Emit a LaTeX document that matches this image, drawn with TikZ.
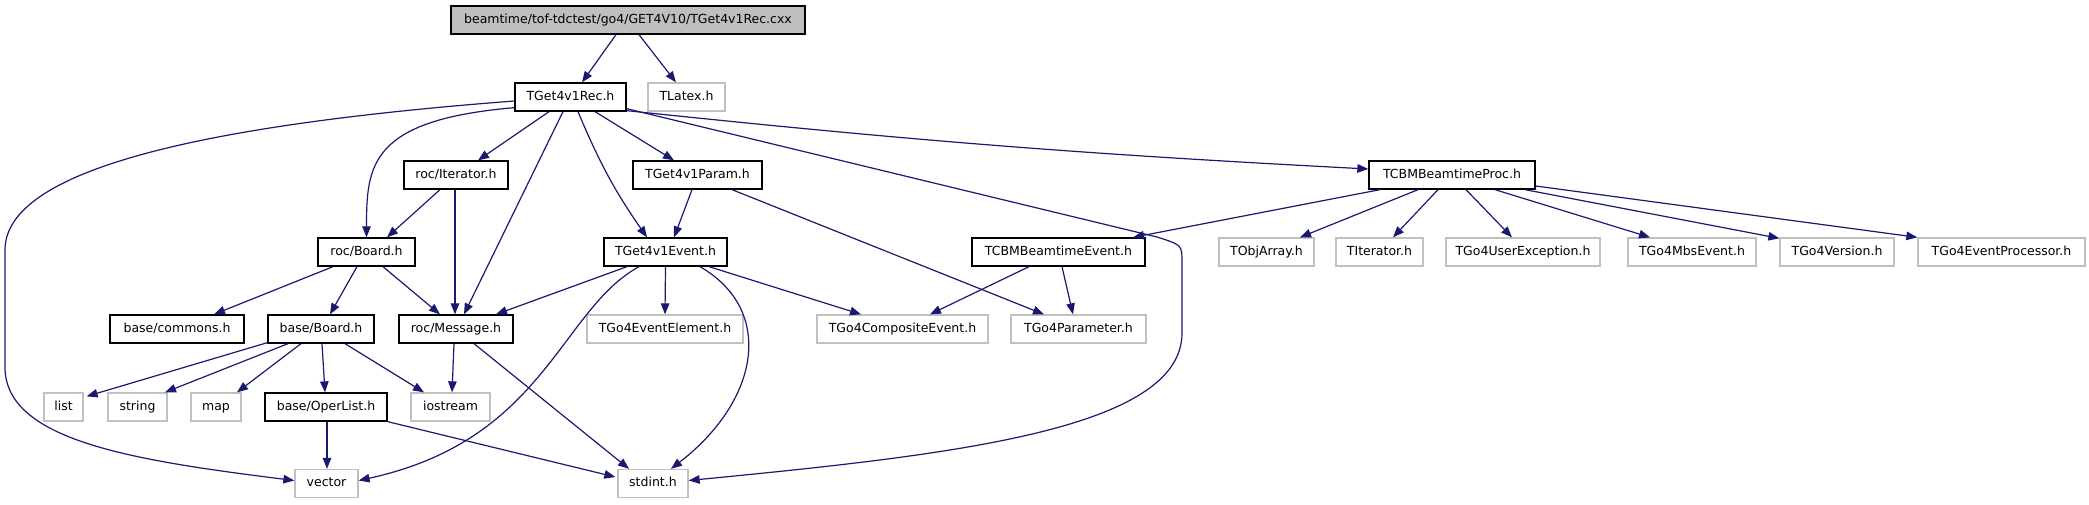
\documentclass[tikz,border=0pt]{standalone}
\usepackage{fontspec}
\setmainfont{DejaVu Sans}
\usetikzlibrary{arrows.meta,calc}
\definecolor{edgec}{HTML}{191970}
\definecolor{greyc}{HTML}{C0C0C0}
\definecolor{topfill}{HTML}{BFBFBF}
\begin{document}
\begin{tikzpicture}[x=1pt,y=-1pt,
  box/.style={draw=black,line width=1.3pt,fill=white,minimum height=28pt,inner sep=0pt,
    font=\fontsize{12.5}{14}\selectfont,text height=9.3pt,text depth=2.4pt},
  gbox/.style={box,draw=greyc},
  edge/.style={draw=edgec,line width=1.2pt,-{Triangle[length=11pt,width=8.5pt]}}]
\useasboundingbox (0,0) rectangle (2089,504);
% row 0
\node[box,fill=topfill,minimum width=354pt] (top) at (628,20) {beamtime/tof-tdctest/go4/GET4V10/TGet4v1Rec.cxx};
% row 1
\node[box,minimum width=111pt] (rec) at (570.5,97) {TGet4v1Rec.h};
\node[gbox,minimum width=77pt] (tlatex) at (686.5,97) {TLatex.h};
% row 2
\node[box,minimum width=104pt] (iter) at (456,175) {roc/Iterator.h};
\node[box,minimum width=129pt] (param) at (697.5,175) {TGet4v1Param.h};
\node[box,minimum width=166pt] (cbmproc) at (1452,175) {TCBMBeamtimeProc.h};
% row 3
\node[box,minimum width=97pt] (rocboard) at (366.5,252) {roc/Board.h};
\node[box,minimum width=123pt] (event) at (665.5,252) {TGet4v1Event.h};
\node[box,minimum width=173pt] (cbmevent) at (1058.5,252) {TCBMBeamtimeEvent.h};
\node[gbox,minimum width=95pt] (tobjarray) at (1266.5,252) {TObjArray.h};
\node[gbox,minimum width=87pt] (titerator) at (1379.5,252) {TIterator.h};
\node[gbox,minimum width=154pt] (userexc) at (1523,252) {TGo4UserException.h};
\node[gbox,minimum width=128pt] (mbs) at (1692,252) {TGo4MbsEvent.h};
\node[gbox,minimum width=114pt] (version) at (1837,252) {TGo4Version.h};
\node[gbox,minimum width=167pt] (evproc) at (2001.5,252) {TGo4EventProcessor.h};
% row 4
\node[box,minimum width=134pt] (commons) at (177,329) {base/commons.h};
\node[box,minimum width=106pt] (baseboard) at (321,329) {base/Board.h};
\node[box,minimum width=114pt] (rocmsg) at (456,329) {roc/Message.h};
\node[gbox,minimum width=156pt] (evelem) at (665,329) {TGo4EventElement.h};
\node[gbox,minimum width=171pt] (composite) at (902.5,329) {TGo4CompositeEvent.h};
\node[gbox,minimum width=135pt] (parameter) at (1078.5,329) {TGo4Parameter.h};
% row 5
\node[gbox,minimum width=39pt] (list) at (63.5,407) {list};
\node[gbox,minimum width=59pt] (string) at (137.5,407) {string};
\node[gbox,minimum width=50pt] (map) at (216,407) {map};
\node[box,minimum width=122pt] (operlist) at (326,407) {base/OperList.h};
\node[gbox,minimum width=79pt] (iostream) at (450.5,407) {iostream};
% row 6
\node[gbox,minimum width=63pt] (vector) at (326.5,483.5) {vector};
\node[gbox,minimum width=70pt] (stdint) at (653,483.5) {stdint.h};

% edges
\draw[edge] ($(top.south)+(-12,0)$) -- ($(rec.north)+(11.5,0)$);
\draw[edge] ($(top.south)+(11,0)$) -- ($(tlatex.north)+(-10.5,0)$);

\draw[edge] ($(rec.west)+(0,4)$) .. controls (200,125) and (5,170) .. (5,250) -- (5,367) .. controls (5,440) and (130,460) .. ($(vector.west)+(0,-3)$);
\draw[edge] ($(rec.south west)+(0,-4)$) .. controls (370,120) and (366.5,165) .. (rocboard.north);
\draw[edge] ($(rec.south)+(-21.5,0)$) -- ($(iter.north)+(22,0)$);
\draw[edge] ($(rec.south)+(-7.5,0)$) -- ($(rocmsg.north)+(8,0)$);
\draw[edge] ($(rec.south)+(7.5,0)$) to[bend right=6] ($(event.north)+(-18.5,0)$);
\draw[edge] ($(rec.south)+(24.5,0)$) -- ($(param.north)+(-23.5,0)$);
\draw[edge] ($(rec.south east)+(0,-3)$) -- (1157,237) .. controls (1182,245) .. (1182,262) -- (1182,333) .. controls (1182,430) and (950,455) .. ($(stdint.east)+(0,-3)$);
\draw[edge] ($(rec.south east)+(0,-1)$) to[bend right=1.5] ($(cbmproc.west)+(0,-6)$);

\draw[edge] ($(iter.south)+(-16,0)$) -- ($(rocboard.north)+(20.5,0)$);
\draw[edge] ($(iter.south)+(-1,0)$) -- ($(rocmsg.north)+(-1,0)$);

\draw[edge] ($(param.south)+(-5.5,0)$) -- ($(event.north)+(8.5,0)$);
\draw[edge] ($(param.south)+(34.5,0)$) -- ($(parameter.north)+(-34.5,0)$);

\draw[edge] ($(rocboard.south)+(-33.5,0)$) -- ($(commons.north)+(37,0)$);
\draw[edge] ($(rocboard.south)+(-9.5,0)$) -- ($(baseboard.north)+(9,0)$);
\draw[edge] ($(rocboard.south)+(16.5,0)$) -- ($(rocmsg.north)+(-16,0)$);

\draw[edge] ($(event.south)+(-38.5,0)$) -- ($(rocmsg.north)+(40,0)$);
\draw[edge] ($(event.south)+(-26.5,0)$) .. controls (560,310) and (545,440) .. ($(vector.east)+(0,-3)$);
\draw[edge] (event.south) -- (evelem.north);
\draw[edge] ($(event.south)+(34.5,0)$) .. controls (775,310) and (760,400) .. ($(stdint.north)+(18,0)$);
\draw[edge] ($(event.south)+(43.5,0)$) -- ($(composite.north)+(-41.5,0)$);

\draw[edge] ($(cbmproc.south)+(-72,0)$) -- ($(cbmevent.north)+(74.5,0)$);
\draw[edge] ($(cbmproc.south)+(-34,0)$) -- ($(tobjarray.north)+(33.5,0)$);
\draw[edge] ($(cbmproc.south)+(-14,0)$) -- ($(titerator.north)+(13.5,0)$);
\draw[edge] ($(cbmproc.south)+(14,0)$) -- ($(userexc.north)+(-11,0)$);
\draw[edge] ($(cbmproc.south)+(43,0)$) -- ($(mbs.north)+(-42,0)$);
\draw[edge] ($(cbmproc.south)+(73,0)$) -- ($(version.north west)+(0,1)$);
\draw[edge] ($(cbmproc.east)+(0,11)$) -- (evproc.north west);

\draw[edge] ($(cbmevent.south)+(-29.5,0)$) -- ($(composite.north)+(27.5,0)$);
\draw[edge] ($(cbmevent.south)+(3.5,0)$) -- ($(parameter.north)+(-5.5,0)$);

\draw[edge] ($(baseboard.south west)+(0,-1)$) -- ($(list.north east)+(3,4)$);
\draw[edge] ($(baseboard.south)+(-33,0)$) -- ($(string.north)+(27.5,0)$);
\draw[edge] ($(baseboard.south)+(-20,0)$) -- ($(map.north)+(21,0)$);
\draw[edge] ($(baseboard.south)+(1,0)$) -- ($(operlist.north)+(-1,0)$);
\draw[edge] ($(baseboard.south)+(24,0)$) -- ($(iostream.north)+(-26.5,0)$);

\draw[edge] ($(rocmsg.south)+(-2,0)$) -- ($(iostream.north)+(1.5,0)$);
\draw[edge] ($(rocmsg.south)+(18,0)$) -- ($(stdint.north)+(-24,0)$);

\draw[edge] ($(operlist.south)+(1,0)$) -- ($(vector.north)+(0.5,0)$);
\draw[edge] (operlist.south east) -- ($(stdint.west)+(-2,-6.5)$);
\end{tikzpicture}
\end{document}
